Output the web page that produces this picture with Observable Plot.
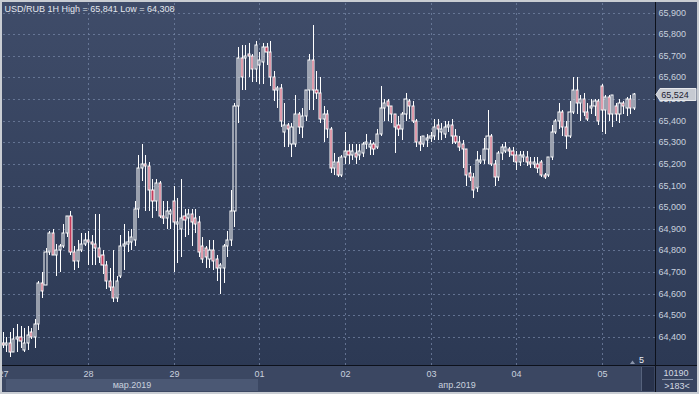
<!DOCTYPE html>
<html><head><meta charset="utf-8">
<script src="https://cdn.jsdelivr.net/npm/d3@7"></script>
<script src="https://cdn.jsdelivr.net/npm/@observablehq/plot@0.6"></script>
<style>
html,body{margin:0;padding:0;background:#c9cdd3;}
#chart{width:699px;height:394px;overflow:hidden;position:relative;}
</style></head><body><div id="chart"></div>
<script>
const title = "USD/RUB 1H High = 65,841 Low = 64,308";
const dayTicks = [0, 24, 48, 72, 96, 120, 144, 168];
const dayLabels = ["27", "28", "29", "01", "02", "03", "04", "05"];
const monthLabels = ["мар.2019", "апр.2019"];
const monthStarts = [0, 72];
const yTicks = [64.4, 64.5, 64.6, 64.7, 64.8, 64.9, 65.0, 65.1, 65.2, 65.3, 65.4, 65.5, 65.6, 65.7, 65.8, 65.9];
const lastPriceLabel = "65,524";
const barsLabel = "10190";
const zoomLabel = ">183<";

const open = [
64.37,64.36,64.37,64.33,64.39,64.40,64.34,64.37,64.42,64.40,64.46,64.65,64.64,64.79,64.88,64.78,64.80,64.82,64.88,64.96,64.79,64.75,64.80,64.83,
64.85,64.84,64.83,64.81,64.78,64.73,64.66,64.63,64.58,64.68,64.82,64.83,64.84,64.85,64.99,65.18,65.20,65.19,65.08,65.03,65.11,64.96,64.95,64.97,
65.03,64.92,64.90,64.96,64.95,64.97,64.95,64.93,64.82,64.81,64.76,64.80,64.76,64.72,64.72,64.82,64.85,64.98,65.47,65.69,65.69,65.71,65.70,65.64,
65.66,65.67,65.74,65.72,65.60,65.54,65.55,65.35,65.38,65.29,65.29,65.43,65.37,65.42,65.54,65.68,65.54,65.53,65.41,65.43,65.36,65.18,65.21,65.15,
65.23,65.26,65.24,65.25,65.24,65.25,65.29,65.28,65.29,65.28,65.34,65.46,65.49,65.47,65.43,65.38,65.36,65.43,65.49,65.47,65.40,65.30,65.29,65.31,
65.32,65.33,65.38,65.35,65.34,65.37,65.38,65.33,65.30,65.29,65.27,65.16,65.14,65.09,65.21,65.22,65.27,65.33,65.20,65.14,65.25,65.26,65.27,65.26,
65.24,65.21,65.23,65.23,65.21,65.20,65.20,65.21,65.15,65.15,65.23,65.35,65.40,65.44,65.37,65.33,65.44,65.54,65.48,65.50,65.44,65.46,65.47,65.49,
65.56,65.45,65.51,65.43,65.47,65.43,65.48,65.46,65.50,65.46];
const high = [
64.42,64.40,64.42,64.44,64.46,64.45,64.44,64.45,64.44,64.48,64.66,64.70,64.81,64.89,64.90,64.83,64.83,64.92,64.96,64.98,64.82,64.85,64.88,64.88,
64.89,64.87,64.97,64.97,64.80,64.75,64.72,64.80,64.68,64.87,64.92,64.89,64.90,65.03,65.24,65.29,65.24,65.21,65.13,65.13,65.12,65.03,65.03,64.99,
65.10,65.04,65.13,64.99,64.99,64.99,64.99,64.96,64.86,64.82,64.85,64.85,64.78,64.74,64.83,64.89,65.08,65.48,65.74,65.75,65.75,65.76,65.71,65.77,
65.72,65.76,65.76,65.77,65.63,65.56,65.57,65.48,65.39,65.39,65.52,65.44,65.46,65.54,65.71,65.841,65.63,65.60,65.47,65.45,65.37,65.25,65.23,65.24,
65.35,65.29,65.29,65.29,65.29,65.30,65.34,65.31,65.30,65.36,65.56,65.50,65.50,65.47,65.43,65.42,65.44,65.53,65.50,65.49,65.41,65.33,65.33,65.34,
65.35,65.41,65.41,65.39,65.40,65.40,65.41,65.36,65.33,65.31,65.27,65.19,65.16,65.26,65.24,65.32,65.45,65.34,65.22,65.26,65.29,65.30,65.28,65.28,
65.26,65.26,65.26,65.26,65.23,65.23,65.23,65.22,65.16,65.23,65.38,65.41,65.48,65.45,65.40,65.49,65.60,65.60,65.52,65.53,65.48,65.50,65.50,65.50,
65.57,65.52,65.52,65.52,65.48,65.50,65.49,65.51,65.52,65.53];
const low = [
64.35,64.33,64.308,64.33,64.33,64.35,64.33,64.34,64.39,64.35,64.43,64.58,64.64,64.78,64.78,64.68,64.70,64.81,64.86,64.78,64.71,64.72,64.79,64.82,
64.73,64.73,64.73,64.74,64.69,64.62,64.61,64.56,64.56,64.67,64.71,64.79,64.80,64.82,64.95,65.12,64.98,64.98,64.95,64.98,64.95,64.92,64.90,64.90,
64.70,64.74,64.77,64.86,64.87,64.82,64.88,64.77,64.74,64.72,64.72,64.71,64.66,64.60,64.65,64.77,64.82,64.91,65.39,65.54,65.54,65.60,65.58,65.58,
65.57,65.57,65.66,65.56,65.49,65.46,65.37,65.28,65.28,65.23,65.28,65.34,65.32,65.40,65.45,65.45,65.50,65.39,65.30,65.32,65.16,65.15,65.14,65.14,
65.20,65.20,65.22,65.20,65.22,65.23,65.27,65.24,65.24,65.27,65.33,65.40,65.40,65.39,65.25,65.33,65.31,65.40,65.41,65.39,65.28,65.26,65.28,65.28,
65.30,65.31,65.31,65.31,65.32,65.35,65.29,65.29,65.26,65.18,65.10,65.12,65.04,65.07,65.20,65.20,65.20,65.19,65.10,65.12,65.22,65.25,65.23,65.21,
65.17,65.19,65.21,65.19,65.18,65.18,65.16,65.14,65.13,65.14,65.22,65.34,65.36,65.33,65.27,65.32,65.43,65.43,65.40,65.42,65.40,65.43,65.42,65.38,
65.35,65.34,65.40,65.37,65.40,65.39,65.43,65.42,65.43,65.45];
const close = [
64.36,64.37,64.33,64.39,64.40,64.38,64.37,64.41,64.40,64.46,64.65,64.61,64.79,64.88,64.78,64.80,64.82,64.88,64.96,64.79,64.75,64.80,64.83,64.85,
64.84,64.83,64.81,64.77,64.73,64.66,64.63,64.58,64.66,64.82,64.83,64.84,64.86,64.99,65.18,65.20,65.19,65.08,65.03,65.11,64.96,64.95,64.98,64.98,
64.93,64.93,64.95,64.94,64.97,64.93,64.92,64.79,64.76,64.77,64.80,64.75,64.72,64.73,64.82,64.85,64.98,65.47,65.69,65.60,65.70,65.70,65.64,65.75,
65.68,65.74,65.72,65.60,65.54,65.55,65.40,65.38,65.36,65.37,65.43,65.37,65.42,65.54,65.68,65.54,65.53,65.41,65.43,65.36,65.18,65.21,65.15,65.23,
65.26,65.24,65.26,65.23,65.26,65.29,65.30,65.29,65.27,65.34,65.46,65.48,65.47,65.43,65.37,65.36,65.43,65.50,65.47,65.40,65.30,65.29,65.33,65.32,
65.33,65.37,65.36,65.36,65.37,65.38,65.33,65.30,65.28,65.27,65.15,65.14,65.08,65.22,65.22,65.27,65.33,65.20,65.14,65.25,65.28,65.28,65.26,65.24,
65.21,65.24,65.24,65.21,65.20,65.21,65.18,65.15,65.14,65.23,65.35,65.40,65.44,65.37,65.33,65.44,65.54,65.48,65.50,65.44,65.41,65.47,65.49,65.40,
65.45,65.51,65.43,65.52,65.43,65.48,65.47,65.50,65.46,65.524];

const candles = open.map((o, i) => ({i, o, h: high[i], l: low[i], c: close[i]}));

const axisColor = "#c9d1de";
const gridColor = "#7484a4";
const downFill = "#c23a5a";
const fmt = d3.formatLocale({decimal: ",", thousands: " ", grouping: [3]}).format(".3f");

const plot = Plot.plot({
  width: 699, height: 394,
  marginTop: 3, marginBottom: 29, marginLeft: 3, marginRight: 44,
  x: {domain: [0.076, 182.97], round: true, axis: null},
  y: {domain: [64.269, 65.9449], round: true, axis: null},
  style: {background: "transparent", fontFamily: "'Liberation Sans', Arial, sans-serif", fontSize: "9px", overflow: "visible"},
  marks: [
    Plot.gridY(yTicks, {stroke: gridColor, strokeOpacity: 0.75, strokeDasharray: "2,3"}),
    Plot.gridX(dayTicks.slice(1), {stroke: gridColor, strokeOpacity: 0.75, strokeDasharray: "2,3"}),
    Plot.ruleX(candles, {x: "i", y1: d => Math.max(d.o, d.c), y2: "h", stroke: "#ffffff", strokeWidth: 1}),
    Plot.ruleX(candles, {x: "i", y1: "l", y2: d => Math.min(d.o, d.c), stroke: "#ffffff", strokeWidth: 1}),
    Plot.rect(candles, {x1: d => d.i - 0.3, x2: d => d.i + 0.3, y1: "o", y2: "c",
      fill: d => d.c < d.o ? downFill : "none", stroke: "#ffffff", strokeWidth: 1}),
    Plot.axisY(yTicks, {anchor: "right", tickSize: 0, tickPadding: 3, tickFormat: fmt, fill: axisColor, fontSize: 9, label: null}),
    Plot.axisX(dayTicks, {anchor: "bottom", tickSize: 0, tickPadding: 5, tickFormat: d => dayLabels[dayTicks.indexOf(d)], fill: axisColor, fontSize: 9, label: null}),
    Plot.text([title], {frameAnchor: "top-left", dx: 1, dy: 2, fill: "#e4e8ee", fontSize: 9, textAnchor: "start", lineAnchor: "top"})
  ]
});

document.getElementById("chart").appendChild(plot);

const svg = d3.select(plot);
const xs = plot.scale("x"), ys = plot.scale("y");

// backgrounds
const bg = svg.insert("g", ":first-child");
const defs = svg.insert("defs", ":first-child");
const grad = defs.append("linearGradient").attr("id", "plotbg").attr("x1", 0).attr("y1", 0).attr("x2", 0).attr("y2", 1);
grad.append("stop").attr("offset", "0%").attr("stop-color", "#3f4c69");
grad.append("stop").attr("offset", "100%").attr("stop-color", "#2c3954");
bg.append("rect").attr("x", 0).attr("y", 0).attr("width", 699).attr("height", 394).attr("fill", "#c9cdd3");
bg.append("rect").attr("x", 2).attr("y", 2).attr("width", 695).attr("height", 364).attr("fill", "url(#plotbg)");
bg.append("rect").attr("x", 2).attr("y", 366).attr("width", 654).attr("height", 26).attr("fill", "#3b4762");
bg.append("rect").attr("x", 656).attr("y", 366).attr("width", 41).attr("height", 26).attr("fill", "#384460");
// month bands
const mx1 = xs.apply(monthStarts[0]) + 3, mx2 = xs.apply(monthStarts[1]) - 1;
bg.append("rect").attr("x", mx1).attr("y", 379).attr("width", mx2 - mx1).attr("height", 12).attr("fill", "#4b5874");

const over = svg.append("g");
over.append("text").attr("x", (mx1 + mx2) / 2).attr("y", 388).attr("text-anchor", "middle")
  .attr("fill", axisColor).attr("font-size", 9).text(monthLabels[0]);
over.append("text").attr("x", (xs.apply(monthStarts[1]) + 655) / 2).attr("y", 388).attr("text-anchor", "middle")
  .attr("fill", axisColor).attr("font-size", 9).text(monthLabels[1]);

// small box at bottom right of x axis
over.append("rect").attr("x", 642).attr("y", 367).attr("width", 12).attr("height", 24).attr("fill", "#29334c");
over.append("line").attr("x1", 641.5).attr("x2", 641.5).attr("y1", 367).attr("y2", 391).attr("stroke", "#56627c");
// "5" and triangle
over.append("text").attr("x", 644).attr("y", 363).attr("text-anchor", "end").attr("fill", "#e8ecf2").attr("font-size", 9).text("5");
over.append("path").attr("d", "M630,364L632.5,360.5L635,364Z").attr("fill", "#8a95aa");

// frame lines
over.append("line").attr("x1", 655.5).attr("x2", 655.5).attr("y1", 2).attr("y2", 392).attr("stroke", "#0d111b");
over.append("line").attr("x1", 2).attr("x2", 697).attr("y1", 365.5).attr("y2", 365.5).attr("stroke", "#0d111b");

// right panel texts
over.append("text").attr("x", 676).attr("y", 376).attr("text-anchor", "middle").attr("fill", "#d3d9e3").attr("font-size", 9).text(barsLabel);
over.append("line").attr("x1", 662).attr("x2", 693).attr("y1", 379.5).attr("y2", 379.5).attr("stroke", "#8792a8");
over.append("text").attr("x", 677).attr("y", 389).attr("text-anchor", "middle").attr("fill", "#d3d9e3").attr("font-size", 9).text(zoomLabel);

// last price label
const yc = Math.round(ys.apply(close[close.length - 1])) + 0.5;
over.append("path")
  .attr("d", `M656,${yc}L660,${yc - 6}L696,${yc - 6}L696,${yc + 6}L660,${yc + 6}Z`)
  .attr("fill", "#c6cad2").attr("stroke", "#e6e8ec");
over.append("text").attr("x", 675).attr("y", yc + 3.5).attr("text-anchor", "middle").attr("fill", "#1c2233").attr("font-size", 9).text(lastPriceLabel);

// outer light border on top
over.append("rect").attr("x", 0).attr("y", 0).attr("width", 2).attr("height", 394).attr("fill", "#c9cdd3");
over.append("rect").attr("x", 0).attr("y", 392).attr("width", 699).attr("height", 2).attr("fill", "#c9cdd3");
over.append("rect").attr("x", 697).attr("y", 0).attr("width", 2).attr("height", 394).attr("fill", "#c9cdd3");
over.append("rect").attr("x", 0).attr("y", 0).attr("width", 699).attr("height", 2).attr("fill", "#c9cdd3");
</script></body></html>
